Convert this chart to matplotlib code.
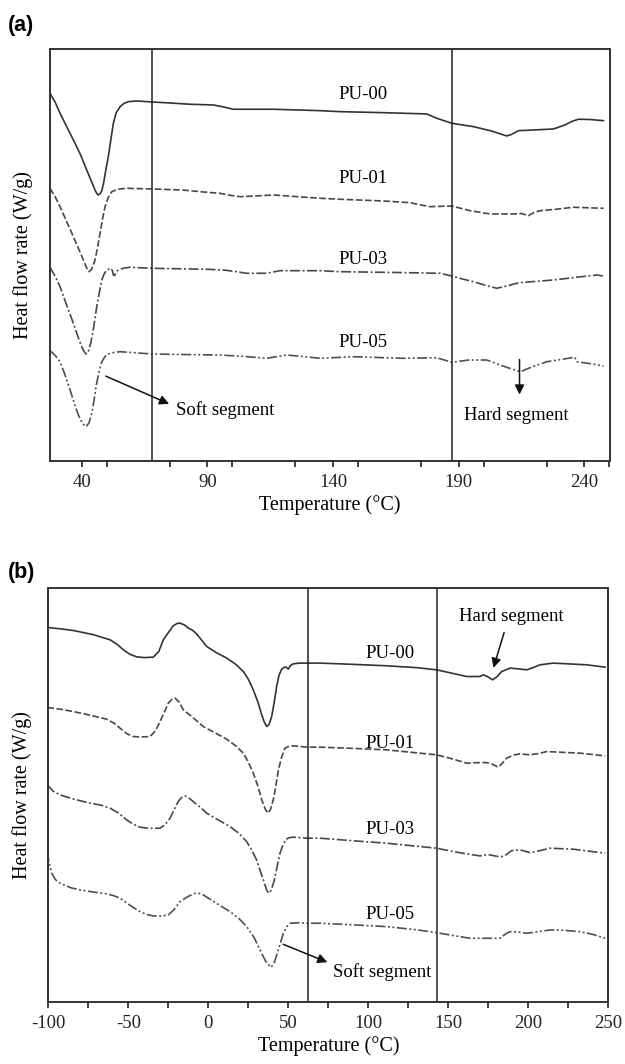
import numpy as np
import matplotlib
matplotlib.use("Agg")
import matplotlib.pyplot as plt
from matplotlib.ticker import MultipleLocator

plt.rcParams['font.family'] = ['Liberation Serif', 'DejaVu Serif']
plt.rcParams['axes.unicode_minus'] = False

# ---- panel (a): heating scan, arbitrary heat flow units ----
a_t00 = [27.4, 29.5, 31.4, 34.0, 36.7, 39.5, 42.0, 44.0, 45.3, 46.0, 46.6, 47.3, 48.0, 48.8,
         49.6, 50.6, 51.6, 52.6, 53.7, 55.3, 56.8, 58.6, 62.0, 65.9, 75.0, 83.1, 92.4, 96.5,
         100.3, 116.3, 134.8, 142.8, 160.0, 177.3, 181.3, 187.2, 195.9, 203.0, 209.1, 211.0,
         213.8, 220.0, 227.7, 232.3, 235.0, 237.6, 242.0, 247.6]
a_v00 = [367.7, 358.5, 347.7, 334.5, 321, 306.5, 291, 279, 271, 267.5, 266, 267, 270, 279,
         291, 304.3, 321, 337.7, 348, 354.3, 357.5, 359.3, 360, 359.3, 358, 356.7, 356, 354,
         351.7, 351.7, 350.3, 349.3, 348.3, 347, 342.7, 337.7, 334.3, 330, 325, 326.5,
         330.3, 331, 332, 336, 339.5, 341.7, 341.5, 340.3]

a_t01 = [27.4, 29.5, 31.4, 34.0, 36.7, 38.8, 40.7, 42.0, 42.9, 43.9, 45.3, 46.3, 47.3, 48.3,
         49.3, 50.5, 52.0, 54.5, 57.9, 68.1, 80.0, 89.8, 95.0, 99.0, 103.0, 109.0, 116.3,
         134.8, 142.8, 160.0, 170.7, 175.0, 178.6, 187.2, 194.5, 202.5, 211.8, 215.0, 217.7,
         220.0, 222.4, 228.0, 235.6, 247.6]
a_v01 = [272.7, 264, 254.3, 239.5, 224.3, 212, 201, 193, 189.3, 191.5, 201, 213, 227.7, 242,
         254.3, 263, 269.3, 271.8, 272.7, 272, 271, 268.7, 267.7, 265.7, 264.3, 265, 266,
         262.7, 261.7, 260, 258.3, 256, 254.3, 255, 250.3, 247, 247, 247.5, 245.3,
         248.5, 250.3, 251.5, 253.7, 252.7]

a_t03 = [27.4, 29.5, 31.4, 34.0, 36.7, 38.5, 40.0, 41.0, 41.7, 42.6, 43.6, 44.8, 46.0, 47.0,
         48.0, 49.0, 50.0, 51.6, 52.2, 52.6, 53.1, 53.5, 54.3, 55.3, 57.0, 59.2, 68.1, 90.0,
         96.4, 101.0, 105.7, 113.6, 118.9, 134.8, 142.8, 165.0, 182.6, 187.2, 191.5, 195.9,
         200.5, 205.2, 209.0, 214.0, 220.0, 227.7, 236.0, 245.0, 247.6]
a_v03 = [193.7, 184.5, 174.3, 156, 137.7, 124.5, 114.3, 109.5, 107, 109.5, 117.7, 134, 154.3, 168,
         181, 187.5, 191, 192.7, 190.5, 186, 185.5, 187.7, 190.5, 191.7, 193, 193.7, 192.7, 191.7,
         191, 189.5, 187.7, 187.7, 190.3, 190.3, 189.3, 188.5, 187.7, 185, 182, 179.3,
         175.8, 172.7, 175, 178.3, 179.5, 181, 183.5, 186, 185]

a_t05 = [27.4, 29.5, 31.4, 33.4, 35.4, 37.1, 38.7, 40.2, 41.7, 42.9, 44.0, 44.9, 45.7, 46.8,
         48.0, 49.3, 50.6, 53.0, 55.3, 68.1, 80.0, 95.0, 105.0, 113.6, 121.6, 128.0, 134.8, 148.1,
         168.0, 181.3, 187.2, 194.0, 201.2, 206.5, 210.5, 214.5, 219.5, 225.1, 235.0, 236.2,
         237.0, 242.0, 247.6]
a_v05 = [110.3, 105.5, 99.3, 86, 71, 57.5, 46, 38, 34.3, 38, 47.7, 60, 74.3, 88,
         99.3, 104.5, 107, 108.7, 109.3, 107, 106.5, 106, 104.5, 102.7, 106, 104.5, 102.7, 104.3,
         102.7, 103.3, 98.7, 101, 101, 96, 92.5, 89.3, 94.5, 99.3, 103.3, 103.8,
         99.3, 97.5, 95]

a_lines = [68.1, 187.2]
a_ticks = [40, 90, 140, 190, 240]

# ---- panel (b): cooling/second scan ----
b_t00 = [-100.6, -92.0, -84.4, -72.0, -61.4, -57.0, -53.1, -49.0, -44.8, -40.0, -34.4, -31.0,
         -28.1, -25.0, -21.9, -19.5, -17.7, -15.0, -12.5, -10.0, -7.5, -5.2, -1.0, 5.0,
         11.5, 17.0, 21.9, 25.0, 28.1, 31.0, 33.4, 35.0, 36.5, 38.0, 39.6, 41.2, 42.7, 44.2,
         45.9, 47.5, 48.6, 50.0, 51.3, 53.1, 57.0, 62.0, 69.8, 90.0, 111.5, 130.0,
         142.7, 152.0, 161.5, 169.8, 171.9, 174.5, 177.7, 180.5, 183.4, 188.6, 194.0, 199.0,
         203.0, 207.3, 215.6, 236.5, 248.0]
b_v00 = [374.6, 373.2, 371.6, 367.5, 362.3, 357.8, 352.3, 347.8, 345.3, 344.5, 345, 350.5,
         362.3, 369.5, 376.3, 378.6, 379, 377.2, 374, 372, 368.5, 364, 355.6, 349.5,
         344, 338, 330.6, 323, 312.3, 300, 287.3, 280, 275.6, 277.8, 285.6, 300, 315.6, 327,
         333, 334.8, 335, 333, 336.5, 338.3, 339, 339, 339, 337.8, 336.3, 334.5,
         332.3, 329, 325.6, 325.6, 327.3, 325.5, 322.3, 325.5, 330.6, 334, 333.2, 332.3,
         334.5, 337.3, 339, 337.3, 335]

b_t01 = [-100.6, -92.0, -84.4, -74.0, -63.5, -59.0, -55.2, -51.0, -46.9, -42.0, -36.4, -33.0,
         -30.2, -27.5, -25.0, -22.8, -20.8, -18.2, -15.6, -13.0, -10.4, -7.0, -3.1, 4.0,
         11.5, 17.0, 21.9, 25.0, 28.1, 31.0, 33.4, 35.5, 37.1, 38.8, 40.6, 42.2, 43.8, 45.8,
         47.9, 50.5, 53.1, 62.0, 69.8, 90.0, 111.5, 142.7, 152.0, 161.5, 168.0,
         174.0, 178.0, 181.2, 183.5, 186.5, 190.5, 194.8, 201.0, 206.0, 211.5, 232.3, 248.0]
b_v01 = [294.6, 292.8, 290.6, 287, 283, 279, 274, 268.5, 265.6, 265.2, 265.6, 271.5,
         280.6, 290, 299, 302.8, 304, 300, 292.3, 289, 285.6, 281, 275.6, 269.5,
         263, 256.5, 249, 240, 229, 216, 202.3, 193.5, 189, 192.5, 202.3, 216, 232.3, 245,
         254, 256, 256.3, 255, 255, 253.8, 252.3, 247.3, 243.5, 239, 239.5,
         239.6, 237.5, 235, 238.5, 244, 247, 248.3, 247.3, 248.5, 250.6, 249, 246.3]

b_t03 = [-100.6, -97.0, -92.7, -84.0, -73.9, -67.0, -61.4, -56.0, -51.0, -47.0, -42.7, -36.5,
         -30.2, -27.0, -23.9, -21.5, -18.8, -16.8, -14.6, -12.0, -9.4, -5.0, -1.0, 6.5,
         13.6, 19.0, 24.0, 27.0, 30.2, 32.5, 34.8, 36.3, 37.7, 39.3, 41.0, 42.8, 44.8, 46.7,
         48.6, 50.5, 53.1, 62.0, 69.8, 90.0, 111.5, 142.7, 152.0, 161.5, 169.8,
         173.0, 176.0, 180.0, 184.4, 187.0, 189.6, 194.8, 201.0, 207.0, 213.6, 228.2, 248.0]
b_v03 = [217.3, 211, 207.3, 203, 199, 197, 194, 189, 182.3, 178, 175, 173.8,
         174, 177.5, 184, 192, 200.6, 204.5, 206.3, 204, 200.6, 195, 189, 182,
         175.6, 169, 160.6, 152.5, 142.3, 131, 120.6, 113, 109, 112, 120.6, 134, 149, 157.5,
         163, 164.5, 165, 164, 164, 161.5, 159, 154, 151, 148.3, 146.3,
         147.2, 147.3, 146, 145.6, 148.5, 151.6, 152.3, 149.6, 151.5, 154, 153, 149]

b_t05 = [-100.6, -99.5, -97.9, -95.5, -92.7, -86.0, -80.2, -72.0, -63.5, -59.0, -55.2, -49.0,
         -42.7, -38.5, -34.4, -29.5, -25.0, -21.5, -17.7, -13.0, -8.3, -5.6, -3.1, -1.0,
         1.1, 7.0, 13.6, 19.0, 24.0, 28.5, 32.3, 36.0, 39.2, 41.2, 43.1, 45.0, 46.9, 49.0,
         51.1, 56.0, 62.0, 69.8, 90.0, 111.5, 130.0, 142.7, 152.0, 163.5, 174.0, 182.3,
         185.5, 188.6, 193.5, 199.0, 206.0, 213.6, 222.0, 232.3, 240.0, 248.0]
b_v05 = [150.6, 139, 129, 122.5, 119, 114.5, 112.3, 110.2, 108.3, 106.5, 104, 97,
         90.6, 87.8, 86.3, 86.3, 87.3, 92.5, 100.6, 105.5, 109, 108.8, 107.3, 105.2,
         103, 97, 90.6, 84, 75.6, 65, 52.3, 40.5, 35, 39.5, 49, 59, 69, 75.5,
         79, 79.5, 79, 79, 77.5, 75.6, 72.5, 69.6, 67, 64, 64, 64,
         68, 70.6, 70.2, 69, 70.5, 72.3, 72, 70.6, 68, 64]

b_lines = [62, 143]

names = ['PU-00', 'PU-01', 'PU-03', 'PU-05']
dash_styles = ['-', (0, (4, 1.5)), (0, (6, 1.5, 1.2, 1.5)), (0, (6, 1.5, 1.2, 1.5, 1.2, 1.5))]
colors = ['#333333', '#484848', '#484848', '#505050']

fig = plt.figure(figsize=(6.25, 10.64), dpi=100)
ax1 = fig.add_axes([0.08, 0.5667, 0.896, 0.3873])
ax2 = fig.add_axes([0.0773, 0.058, 0.896, 0.3893])


def style_axes(ax):
    for s in ax.spines.values():
        s.set_linewidth(1.4)
        s.set_color('#333333')
    ax.set_yticks([])
    ax.tick_params(axis='x', which='both', direction='out', length=4, width=1.2,
                   labelsize=13.5, pad=5, colors='#222222', top=False)
    ax.set_ylabel('Heat flow rate (W/g)', fontsize=14.5, labelpad=12)
    ax.set_xlabel('Temperature (\u00b0C)', fontsize=14.5, labelpad=3)


# panel (a)
a_data = [(a_t00, a_v00), (a_t01, a_v01), (a_t03, a_v03), (a_t05, a_v05)]
for (t, v), ls, c in zip(a_data, dash_styles, colors):
    ax1.plot(t, v, color=c, lw=1.2, linestyle=ls, solid_joinstyle='round')
for x in a_lines:
    ax1.axvline(x, color='#222222', lw=1.1)
ax1.set_xlim(27.4, 250.2)
ax1.set_ylim(0, 412)
ax1.set_xticks(a_ticks)
ax1.xaxis.set_minor_locator(MultipleLocator(25))
style_axes(ax1)
for name, yv in zip(names, [366, 282.7, 201, 118.3]):
    ax1.text(152.1, yv, name, fontsize=13.5, ha='center', va='center')
ax1.annotate('', xy=(75.8, 56), xytext=(48.6, 86),
             arrowprops=dict(arrowstyle='-|>', color='#111111', lw=1.1, mutation_scale=14))
ax1.text(77.5, 51, 'Soft segment', fontsize=13.5, ha='left', va='center')
ax1.annotate('', xy=(214.2, 63.7), xytext=(214.2, 104.3),
             arrowprops=dict(arrowstyle='-|>', color='#111111', lw=1.1, mutation_scale=14))
ax1.text(213.1, 46, 'Hard segment', fontsize=13.5, ha='center', va='center')
fig.text(0.013, 0.976, '(a)', fontsize=15.5, fontweight='bold', family='Liberation Sans',
         ha='left', va='center')

# panel (b)
b_data = [(b_t00, b_v00), (b_t01, b_v01), (b_t03, b_v03), (b_t05, b_v05)]
for (t, v), ls, c in zip(b_data, dash_styles, colors):
    ax2.plot(t, v, color=c, lw=1.2, linestyle=ls, solid_joinstyle='round')
for x in b_lines:
    ax2.axvline(x, color='#222222', lw=1.1)
ax2.set_xlim(-100, 250)
ax2.set_ylim(0, 414)
ax2.set_xticks(np.arange(-100, 251, 50))
ax2.xaxis.set_minor_locator(MultipleLocator(25))
style_axes(ax2)
for name, yv in zip(names, [349, 259, 173, 87.3]):
    ax2.text(113.6, yv, name, fontsize=13.5, ha='center', va='center')
ax2.annotate('', xy=(76, 39), xytext=(45.2, 59),
             arrowprops=dict(arrowstyle='-|>', color='#111111', lw=1.1, mutation_scale=14))
ax2.text(78, 30.6, 'Soft segment', fontsize=13.5, ha='left', va='center')
ax2.annotate('', xy=(177.7, 331.6), xytext=(185.4, 372.3),
             arrowprops=dict(arrowstyle='-|>', color='#111111', lw=1.1, mutation_scale=14))
ax2.text(189.6, 385.6, 'Hard segment', fontsize=13.5, ha='center', va='center')
fig.text(0.013, 0.4615, '(b)', fontsize=15.5, fontweight='bold', family='Liberation Sans',
         ha='left', va='center')

fig.savefig('out.png', dpi=100)
